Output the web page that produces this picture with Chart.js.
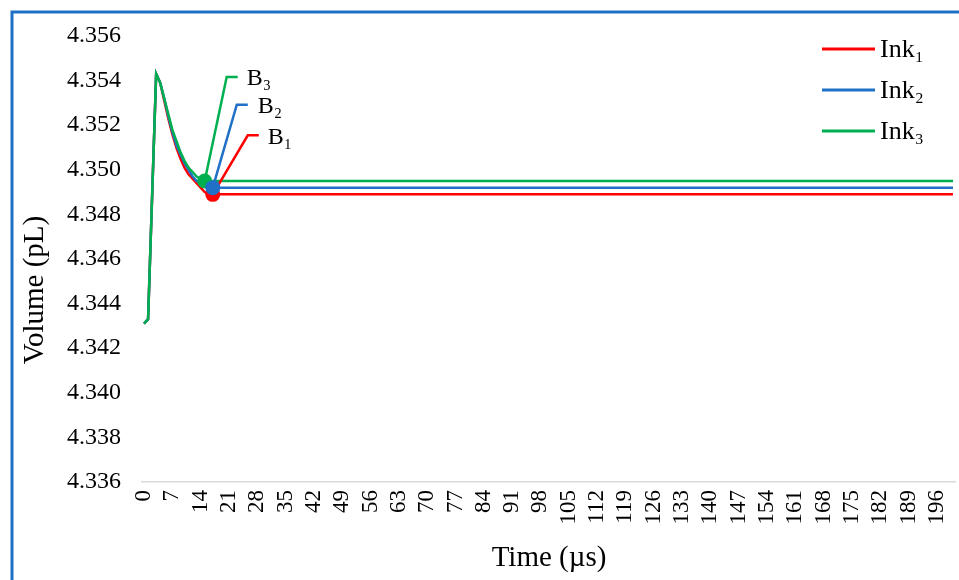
<!DOCTYPE html>
<html>
<head>
<meta charset="utf-8">
<script src="https://cdn.jsdelivr.net/npm/chart.js@4/dist/chart.umd.min.js"></script>
<style>
  html, body { margin: 0; padding: 0; background: #fff; }
  #wrap { width: 959px; height: 580px; }
</style>
</head>
<body>
<div id="wrap"><canvas id="myChart" width="959" height="580"></canvas></div>
<script>
// time in microseconds, sampled every 1 us until the curves settle
var Times = [0,1,2,3,4,5,6,7,8,9,10,11,12,13,14,15,16,17,200];
var Ink1  = [4.3431,4.3433,4.3488,4.3543,4.3539,4.3531,4.3523,4.3516,4.3510,4.3505,4.3501,4.3498,4.3496,4.3494,4.3492,4.3490,4.3489,4.3489,4.3489];
var Ink2  = [4.3431,4.3433,4.3488,4.3543,4.3539,4.3532,4.3524,4.3517,4.3511,4.3507,4.3503,4.3500,4.3497,4.3495,4.3494,4.3493,4.3492,4.3492,4.3492];
var Ink3  = [4.3431,4.3433,4.3488,4.3543,4.3539,4.3532,4.3525,4.3518,4.3513,4.3508,4.3504,4.3501,4.3499,4.3497,4.3496,4.3495,4.3495,4.3495,4.3495];

var Labels = ["Ink\u2081", "Ink\u2082", "Ink\u2083"];
var MarkerLabels = ["B\u2081", "B\u2082", "B\u2083"];
var MarkerTimes = [17, 17, 15];

var RED = "#ff0000", BLUE = "#1f70c6", GREEN = "#00b050";
var SERIF = "'Liberation Serif', 'Times New Roman', serif";

function pts(vals) {
  return Times.map(function (t, i) { return { x: t, y: vals[i] }; });
}

// leader line offsets from each marker: [elbowX, elbowY, endX, textX, textY]
var leaders = [
  [35, -59, 46, 55, -57],
  [24, -83, 35, 45, -81],
  [22, -104, 33, 42, -102]
];

var decor = {
  id: "decor",
  beforeDraw: function (chart) {
    var c = chart.ctx;
    c.save();
    c.fillStyle = "#fff";
    c.fillRect(0, 0, chart.width, chart.height);
    c.strokeStyle = "#1e70c6";
    c.lineWidth = 3;
    c.strokeRect(12, 12, 1200, 1200);
    c.restore();
  },
  afterDatasetsDraw: function (chart) {
    var c = chart.ctx, xs = chart.scales.x, ys = chart.scales.y;
    var order = [2, 0, 1];
    c.save();
    // leader lines and labels
    for (var k = 0; k < 3; k++) {
      var ds = chart.data.datasets[k];
      var idx = Times.indexOf(MarkerTimes[k]);
      var px = xs.getPixelForValue(MarkerTimes[k]);
      var py = ys.getPixelForValue(ds.data[idx].y);
      var L = leaders[k];
      c.strokeStyle = ds.borderColor;
      c.lineWidth = 2.5;
      c.beginPath();
      c.moveTo(px, py);
      c.lineTo(px + L[0], py + L[1]);
      c.lineTo(px + L[2], py + L[1]);
      c.stroke();
      c.fillStyle = "#000";
      c.font = "24px " + SERIF;
      c.textAlign = "left";
      c.textBaseline = "middle";
      c.fillText(MarkerLabels[k], px + L[3], py + L[4]);
    }
    // markers
    order.forEach(function (k) {
      var ds = chart.data.datasets[k];
      var idx = Times.indexOf(MarkerTimes[k]);
      var px = xs.getPixelForValue(MarkerTimes[k]);
      var py = ys.getPixelForValue(ds.data[idx].y);
      c.fillStyle = ds.borderColor;
      c.beginPath();
      c.arc(px, py, 7.5, 0, Math.PI * 2);
      c.fill();
    });
    c.restore();
  },
  afterDraw: function (chart) {
    var c = chart.ctx;
    c.save();
    // legend
    chart.data.datasets.forEach(function (ds, i) {
      var y = 49 + i * 41;
      c.strokeStyle = ds.borderColor;
      c.lineWidth = 3;
      c.beginPath();
      c.moveTo(822, y);
      c.lineTo(875, y);
      c.stroke();
      c.fillStyle = "#000";
      c.font = "26px " + SERIF;
      c.textAlign = "left";
      c.textBaseline = "middle";
      c.fillText(ds.label, 880, y + 1);
    });
    // axis titles
    c.font = "29px " + SERIF;
    c.textAlign = "center";
    c.textBaseline = "alphabetic";
    c.fillText("Time (\u00b5s)", 549, 566);
    c.translate(43, 290);
    c.rotate(-Math.PI / 2);
    c.fillText("Volume (pL)", 0, 0);
    c.restore();
  }
};

var ctx = document.getElementById("myChart");
var myChart = new Chart(ctx, {
  type: "line",
  data: {
    datasets: [
      { label: Labels[0], data: pts(Ink1), borderColor: RED, backgroundColor: RED, order: 3 },
      { label: Labels[1], data: pts(Ink2), borderColor: BLUE, backgroundColor: BLUE, order: 2 },
      { label: Labels[2], data: pts(Ink3), borderColor: GREEN, backgroundColor: GREEN, order: 1 }
    ]
  },
  options: {
    responsive: false,
    animation: false,
    layout: { padding: { top: 36, right: 4, left: 0, bottom: 0 } },
    elements: {
      line: { borderWidth: 2.5, tension: 0, fill: false },
      point: { radius: 0, hoverRadius: 0 }
    },
    plugins: { legend: { display: false }, tooltip: { enabled: false } },
    scales: {
      x: {
        type: "linear",
        min: -0.5,
        max: 200.5,
        grid: { display: false },
        border: { color: "#d9d9d9", width: 1.5 },
        ticks: {
          stepSize: 7,
          includeBounds: false,
          autoSkip: false,
          minRotation: 90,
          maxRotation: 90,
          padding: 0,
          color: "#000",
          font: { family: SERIF, size: 23 }
        },
        afterFit: function (s) { s.height = 98; s.paddingLeft = 0; s.paddingRight = 0; }
      },
      y: {
        min: 4.336,
        max: 4.356,
        grid: { display: false },
        border: { display: false },
        ticks: {
          stepSize: 0.002,
          padding: 13,
          color: "#000",
          font: { family: SERIF, size: 24 },
          callback: function (v) { return v.toFixed(3); }
        },
        afterFit: function (s) { s.width = 142; }
      }
    }
  },
  plugins: [decor]
});
</script>
</body>
</html>
